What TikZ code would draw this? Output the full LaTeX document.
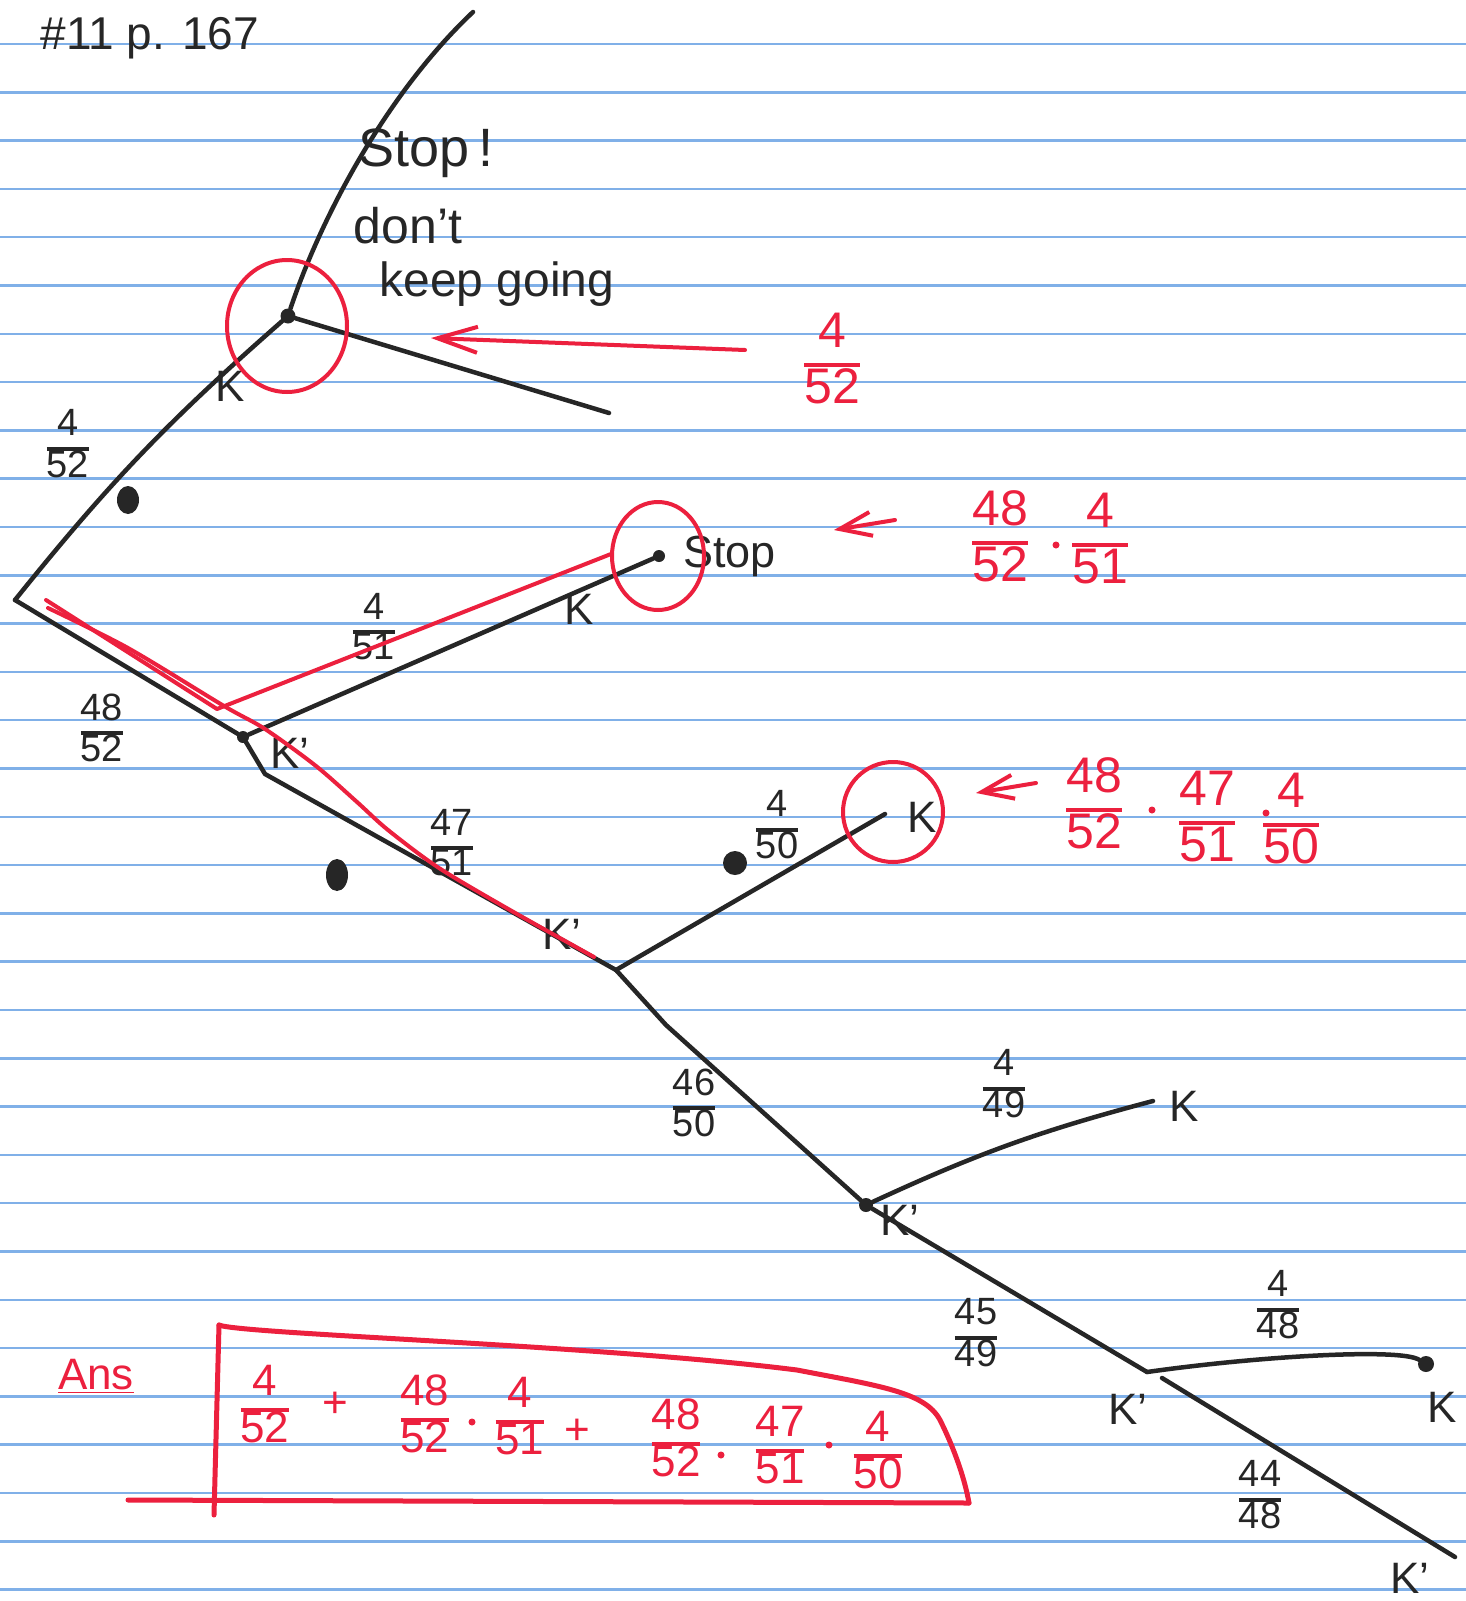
\documentclass[tikz,border=0pt]{standalone}
\usepackage{fontspec}
\setmainfont{Liberation Sans}
\usepackage{xcolor}
\usetikzlibrary{arrows.meta, calc, positioning, shapes.geometric}

\definecolor{inkblack}{RGB}{38,38,38}
\definecolor{markred}{RGB}{236,32,62}
\definecolor{ruleblue}{RGB}{128,176,232}
\setlength{\arrayrulewidth}{3.5pt}
\newcommand{\hfrac}[2]{\begin{tabular}{@{}c@{}}#1\\\hline #2\end{tabular}}
\newcommand{\handS}{\fontsize{38}{37}\selectfont}
\newcommand{\handM}{\fontsize{44}{44}\selectfont}
\newcommand{\handL}{\fontsize{50}{52}\selectfont}

\begin{document}
\begin{tikzpicture}[
    x=1pt, y=-1pt,
    ink/.style={draw=inkblack, line width=4.5pt, line cap=round, line join=round},
    redpen/.style={draw=markred, line width=4pt, line cap=round, line join=round},
    redarrow/.style={redpen, -{Straight Barb[length=40pt, width=26pt]}},
    shortarrow/.style={redpen, -{Straight Barb[length=32pt, width=24pt]}},
    tdot/.style={circle, fill=inkblack, inner sep=0pt, minimum size=12pt},
    reddot/.style={circle, fill=markred, inner sep=0pt, minimum size=7pt},
    blob/.style={ellipse, fill=inkblack, inner sep=0pt},
    redring/.style={ellipse, draw=markred, line width=4pt, inner sep=0pt},
    frac/.style={font=\handS, text=inkblack, inner sep=0pt},
    redfrac/.style={font=\handL, text=markred, inner sep=0pt},
    ansfrac/.style={font=\handM, text=markred, inner sep=0pt},
    klabel/.style={font=\handM, text=inkblack, inner sep=0pt},
    note/.style={font=\fontsize{54}{56}\selectfont, text=inkblack, inner sep=0pt},
]
% Paper
\useasboundingbox (0,0) rectangle (1466,1601);
\fill[white] (0,0) rectangle (1466,1601);
\foreach \k in {0,...,32}
    \draw[ruleblue, line width=2.5pt] (0,{44+48.3*\k}) -- (1466,{44+48.3*\k});

\node[note, font=\fontsize{46}{48}\selectfont] (title) at (150,38) {\#11 p. 167};

% Tree points
\coordinate (root) at (15,600);
\node[tdot, minimum size=15pt] (nA) at (288,316) {};
\coordinate (topend) at (473,12);
\coordinate (rend) at (609,413);
\node[tdot] (nB) at (243,737) {};
\coordinate (bkink) at (265,774);
\node[tdot] (nS) at (659,556) {};
\coordinate (nC) at (616,970);
\coordinate (ckink) at (666,1025);
\coordinate (nD) at (885,814);
\node[tdot, minimum size=14pt] (nE) at (866,1205) {};
\coordinate (nF) at (1153,1101);
\coordinate (nG) at (1147,1372);
\coordinate (gstart) at (1162,1378);
\node[tdot, minimum size=16pt] (nH) at (1426,1364) {};
\coordinate (nI) at (1455,1557);

% Branches
\draw[ink] (root) to[bend left=5] (nA);
\draw[ink] (nA) .. controls (320,220) and (385,95) .. (topend);
\draw[ink] (nA) -- (rend);
\draw[ink] (root) -- (nB) -- (bkink) -- (nC);
\draw[ink] (nB) -- (nS);
\draw[ink] (nC) -- (nD);
\draw[ink] (nC) -- (ckink) -- (nE);
\draw[ink] (nE) to[bend left=5] (nF);
\draw[ink] (nE) -- (nG);
\draw[ink] (nG) .. controls (1260,1356) and (1400,1348) .. (nH);
\draw[ink] (gstart) -- (nI);

% Ink blobs
\node[blob, minimum width=22pt, minimum height=28pt] (blobA) at (128,500) {};
\node[blob, minimum width=22pt, minimum height=32pt] (blobB) at (337,875) {};
\node[blob, minimum width=24pt, minimum height=24pt] (blobC) at (735,863) {};

% Branch labels
\node[frac] (pA) at (68,449) {\hfrac{4}{52}};
\node[frac] (pB) at (102,733) {\hfrac{48}{52}};
\node[frac] (pS) at (374,632) {\hfrac{4}{51}};
\node[frac] (pC) at (452,848) {\hfrac{47}{51}};
\node[frac] (pD) at (777,830) {\hfrac{4}{50}};
\node[frac] (pE) at (694,1108) {\hfrac{46}{50}};
\node[frac] (pF) at (1004,1089) {\hfrac{4}{49}};
\node[frac] (pG) at (976,1338) {\hfrac{45}{49}};
\node[frac] (pH) at (1278,1310) {\hfrac{4}{48}};
\node[frac] (pI) at (1260,1500) {\hfrac{44}{48}};

\node[klabel] (kA) at (230,386) {K};
\node[klabel] (kB) at (290,753) {K'};
\node[klabel] (kS) at (579,609) {K};
\node[klabel] (kC) at (562,934) {K'};
\node[klabel] (kD) at (922,817) {K};
\node[klabel] (kE) at (900,1220) {K'};
\node[klabel] (kF) at (1184,1106) {K};
\node[klabel] (kG) at (1128,1409) {K'};
\node[klabel] (kH) at (1442,1407) {K};
\node[klabel] (kI) at (1410,1578) {K'};

% Notes
\node[note] (stopA) at (426,153) {Stop\,!};
\node[note, font=\fontsize{50}{52}\selectfont] (dont) at (408,226) {don't};
\node[note, font=\fontsize{48}{50}\selectfont] (keep) at (497,284) {keep going};
\node[note, font=\fontsize{45}{47}\selectfont, right=18pt of nS, anchor=west] (stopS) {Stop};

% Red marks
\node[redring, minimum width=120pt, minimum height=132pt] (ringA) at (287,326) {};
\node[redring, minimum width=92pt, minimum height=108pt] (ringS) at (658,556) {};
\node[redring, minimum width=100pt, minimum height=100pt] (ringD) at (893,812) {};

\draw[redpen] (46,600) -- (217,709) -- (611,554);
\draw[redpen] plot[smooth] coordinates {(48,608) (128,648) (224,706) (265,729) (316,766) (357,802) (388,830) (439,868) (510,910) (594,957)};

\coordinate (arA) at (745,350);
\coordinate (tipA) at (431,338);
\coordinate (arS) at (895,520);
\coordinate (tipS) at (834,530);
\coordinate (arD) at (1036,783);
\coordinate (tipD) at (976,793);
\draw[redarrow] (arA) -- (tipA);
\draw[shortarrow] (arS) -- (tipS);
\draw[shortarrow] (arD) -- (tipD);

\node[redfrac] (rA) at (832,365) {\hfrac{4}{52}};
\node[redfrac] (rS1) at (1000,543) {\hfrac{48}{52}};
\node[reddot] (dS) at (1056,545) {};
\node[redfrac] (rS2) at (1100,545) {\hfrac{4}{51}};
\node[redfrac] (rD1) at (1094,810) {\hfrac{48}{52}};
\node[reddot] (dD1) at (1152,810) {};
\node[redfrac] (rD2) at (1207,823) {\hfrac{47}{51}};
\node[reddot] (dD2) at (1266,813) {};
\node[redfrac] (rD3) at (1291,825) {\hfrac{4}{50}};

% Answer
\node[ansfrac] (ans) at (96,1376) {\underline{Ans}};
\draw[redpen, line width=5pt] (219,1325) -- (214,1515);
\draw[redpen, line width=5pt] (219,1325) .. controls (240,1334) and (600,1345) .. (797,1370)
    .. controls (880,1386) and (925,1392) .. (940,1420)
    .. controls (955,1450) and (965,1480) .. (969,1503);
\draw[redpen, line width=5pt] (128,1500) -- (969,1503);

\node[ansfrac] (a1) at (265,1410) {\hfrac{4}{52}};
\node[ansfrac] (plusA) at (335,1405) {+};
\node[ansfrac] (a2) at (425,1420) {\hfrac{48}{52}};
\node[reddot] (dA1) at (472,1422) {};
\node[ansfrac] (a3) at (520,1422) {\hfrac{4}{51}};
\node[ansfrac] (plusB) at (577,1432) {+};
\node[ansfrac] (a4) at (676,1444) {\hfrac{48}{52}};
\node[reddot] (dA2) at (721,1455) {};
\node[ansfrac] (a5) at (780,1451) {\hfrac{47}{51}};
\node[reddot] (dA3) at (829,1445) {};
\node[ansfrac] (a6) at (878,1456) {\hfrac{4}{50}};
\end{tikzpicture}
\end{document}
